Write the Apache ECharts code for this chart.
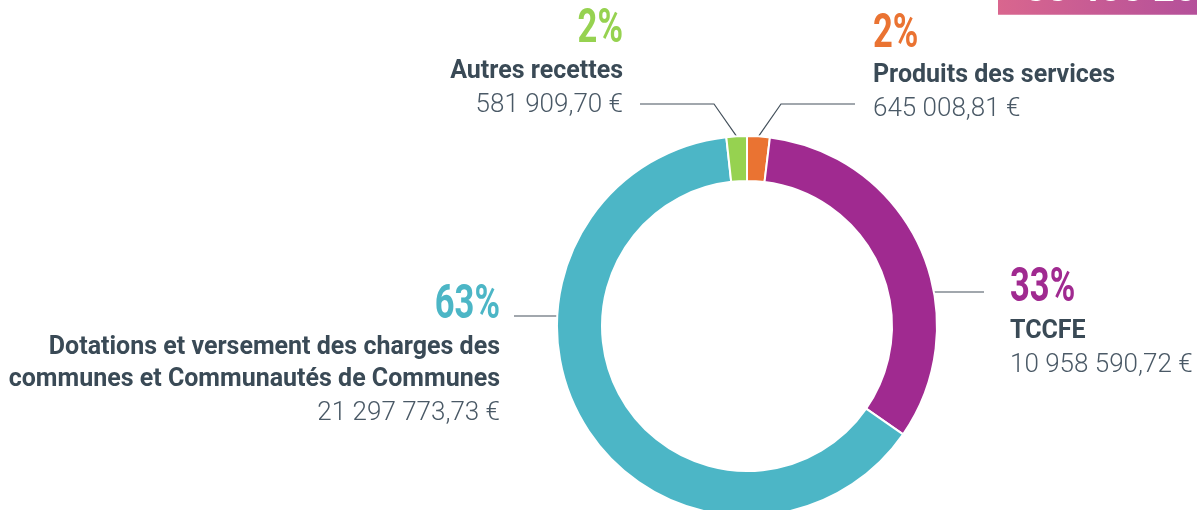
<!DOCTYPE html>
<html>
<head>
<meta charset="utf-8">
<script src="https://cdn.jsdelivr.net/npm/echarts@6/dist/echarts.min.js"></script>
<style>
  html, body { margin: 0; padding: 0; background: #fff; }
  #chart { width: 1197px; height: 510px; }
</style>
</head>
<body>
<div id="chart"></div>
<script>
// donnees (sens horaire depuis le haut)
const names = ['Produits des services', 'TCCFE', 'Dotations et versement des charges des\ncommunes et Communautés de Communes', 'Autres recettes']
const values = [645008.81, 10958590.72, 21297773.73, 581909.70]
const colors = ['#ea7332', '#a02a90', '#4cb6c6', '#96d250']

// position des etiquettes (nom + montant) et des pourcentages
const labelPos = [
  { x: 873, y: 60, align: 'left', py: 34.5 },
  { x: 1010, y: 316, align: 'left', py: 289 },
  { x: 500, y: 332, align: 'right', py: 305.5 },
  { x: 623, y: 56, align: 'right', py: 30 }
]

const cx = 747
const cy = 326

function euro (v) {
  const parts = v.toFixed(2).split('.')
  const ent = parts[0].replace(/\B(?=(\d{3})+(?!\d))/g, ' ')
  return ent + ',' + parts[1] + ' €'
}

const total = values.reduce((a, b) => a + b, 0)

// pourcentages arrondis (plus forts restes)
function percents (arr) {
  const raw = arr.map(v => v / total * 100)
  const out = raw.map(Math.floor)
  let reste = 100 - out.reduce((a, b) => a + b, 0)
  const ordre = raw.map((v, i) => i).sort((a, b) => (raw[b] - out[b]) - (raw[a] - out[a]))
  for (let k = 0; k < reste; k++) out[ordre[k]]++
  return out
}
const pct = percents(values)

const chart = echarts.init(document.getElementById('chart'))

const pctText = pct.map((p, i) => ({
  type: 'text',
  x: labelPos[i].x,
  y: labelPos[i].py,
  scaleX: 0.72,
  style: {
    text: p + '%',
    fill: colors[i],
    font: 'bold 48px Roboto, sans-serif',
    align: labelPos[i].align,
    verticalAlign: 'middle'
  }
}))

const option = {
  backgroundColor: '#fff',
  animation: false,
  graphic: [
    {
      type: 'rect',
      shape: { x: 998, y: -10, width: 199, height: 24.7 },
      style: {
        fill: new echarts.graphic.LinearGradient(0, 0, 1, 0, [
          { offset: 0, color: '#d9668e' },
          { offset: 1, color: '#b4509a' }
        ])
      }
    },
    {
      type: 'text',
      x: 1025,
      y: -9,
      style: {
        text: euro(total),
        fill: '#fff',
        font: 'bold 38px Roboto, sans-serif',
        verticalAlign: 'middle'
      }
    }
  ].concat(pctText),
  series: [
    {
      type: 'pie',
      center: [cx, cy],
      radius: [145, 190],
      startAngle: 90,
      clockwise: true,
      avoidLabelOverlap: false,
      itemStyle: {
        borderColor: '#fff',
        borderWidth: 2
      },
      label: {
        show: true,
        position: 'outside',
        formatter: (p) => {
          return '{n|' + p.name.split('\n').join('}\n{n|') + '}\n{v|' + euro(p.value) + '}'
        },
        rich: {
          n: { fontSize: 25, lineHeight: 32, fontWeight: 'bold', color: '#3a4a56', fontFamily: 'Roboto, sans-serif' },
          v: { fontSize: 26, lineHeight: 34, fontWeight: 300, color: '#4a5966', fontFamily: 'Roboto, sans-serif' }
        }
      },
      labelLine: {
        show: true,
        lineStyle: { color: '#44515c', width: 1.2 }
      },
      labelLayout: (params) => {
        const i = params.dataIndex
        const pos = labelPos[i]
        const start = params.labelLinePoints ? params.labelLinePoints[0] : [cx, cy]
        let pts
        if (i === 0) {
          pts = [start, [781, 104], [855, 104]]
        } else if (i === 3) {
          pts = [start, [714, 104], [640, 104]]
        } else if (i === 1) {
          const y = 292
          pts = [[cx + Math.sqrt(182 * 182 - (y - cy) * (y - cy)), y], [984, y]]
        } else {
          const y = 316
          pts = [[cx - Math.sqrt(180 * 180 - (y - cy) * (y - cy)), y], [514, y]]
        }
        return {
          x: pos.x,
          y: pos.y,
          align: pos.align,
          verticalAlign: 'top',
          labelLinePoints: pts
        }
      },
      data: names.map((n, i) => ({
        name: n,
        value: values[i],
        itemStyle: { color: colors[i] },
        label: { align: labelPos[i].align }
      }))
    }
  ]
}

chart.setOption(option)
</script>
</body>
</html>
